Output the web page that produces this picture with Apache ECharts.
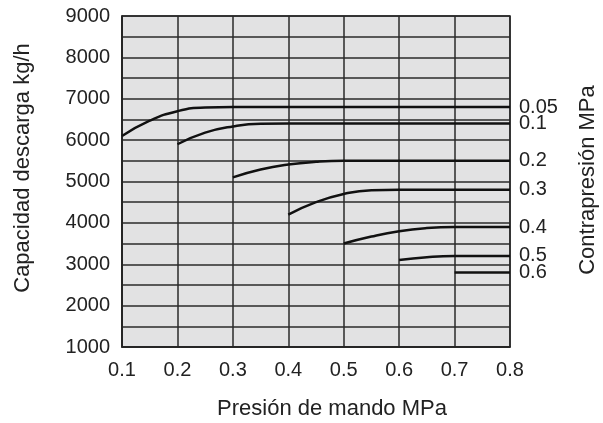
<!DOCTYPE html>
<html>
<head>
<meta charset="utf-8">
<script src="https://cdn.jsdelivr.net/npm/echarts@6/dist/echarts.min.js"></script>
<style>html,body{margin:0;padding:0;background:#fff}#c{width:603px;height:423px}</style>
</head>
<body>
<div id="c"></div>
<script>
// Back pressure curves (MPa): [pilot pressure MPa, discharge capacity kg/h]
const seriesNames = ['0.05', '0.1', '0.2', '0.3', '0.4', '0.5', '0.6'];
const cp005 = [[0.1, 6100], [0.15, 6470], [0.2, 6700], [0.25, 6790], [0.3, 6800], [0.8, 6800]];
const cp01  = [[0.2, 5900], [0.25, 6180], [0.3, 6330], [0.35, 6395], [0.4, 6400], [0.8, 6400]];
const cp02  = [[0.3, 5100], [0.35, 5290], [0.4, 5410], [0.45, 5475], [0.5, 5500], [0.8, 5500]];
const cp03  = [[0.4, 4200], [0.45, 4500], [0.5, 4700], [0.55, 4790], [0.6, 4800], [0.8, 4800]];
const cp04  = [[0.5, 3500], [0.55, 3670], [0.6, 3800], [0.65, 3875], [0.7, 3900], [0.8, 3900]];
const cp05  = [[0.6, 3100], [0.65, 3170], [0.7, 3200], [0.8, 3200]];
const cp06  = [[0.7, 2800], [0.8, 2800]];
const allData = [cp005, cp01, cp02, cp03, cp04, cp05, cp06];

const xTicks = [0.1, 0.2, 0.3, 0.4, 0.5, 0.6, 0.7, 0.8];
const yTicks = [1000, 2000, 3000, 4000, 5000, 6000, 7000, 8000, 9000];
const xTitle = 'Presión de mando MPa';
const yTitle = 'Capacidad descarga kg/h';
const rightTitle = 'Contrapresión MPa';

const FONT = 'Liberation Sans, Arial, Helvetica, sans-serif';
const chart = echarts.init(document.getElementById('c'), null, {renderer: 'canvas'});

const series = allData.map((d, i) => ({
  name: seriesNames[i],
  type: 'line',
  data: d,
  smooth: true,
  showSymbol: false,
  symbol: 'none',
  lineStyle: {color: '#111', width: 2.5},
  endLabel: {
    show: true,
    formatter: '{a}',
    color: '#222',
    fontSize: 20,
    fontFamily: FONT,
    distance: 9
  },
  emphasis: {disabled: true},
  silent: true
}));

const titleFont = '22px ' + FONT;

chart.setOption({
  animation: false,
  backgroundColor: '#fff',
  grid: {
    left: 122, right: 93, top: 16, bottom: 76,
    outerBoundsMode: 'none',
    containLabel: false,
    show: true,
    backgroundColor: '#e2e2e3',
    borderColor: '#222',
    borderWidth: 1.5
  },
  xAxis: {
    type: 'value',
    min: xTicks[0], max: xTicks[xTicks.length - 1], interval: 0.1,
    axisLine: {show: true, lineStyle: {color: '#222', width: 1.5}},
    axisTick: {show: false},
    axisLabel: {
      fontSize: 20, color: '#222', fontFamily: FONT, margin: 13,
      formatter: v => (Math.round(v * 10) / 10).toFixed(1)
    },
    splitLine: {show: true, lineStyle: {color: '#2a2a2a', width: 1.5}}
  },
  yAxis: {
    type: 'value',
    min: yTicks[0], max: yTicks[yTicks.length - 1], interval: 500,
    axisLine: {show: true, lineStyle: {color: '#222', width: 1.5}},
    axisTick: {show: false},
    axisLabel: {
      fontSize: 20, color: '#222', fontFamily: FONT, margin: 12,
      formatter: v => (yTicks.indexOf(v) >= 0 ? String(v) : '')
    },
    splitLine: {show: true, lineStyle: {color: '#2a2a2a', width: 1.5}}
  },
  graphic: [
    {type: 'text', x: 332, y: 409, silent: true,
     style: {text: xTitle, font: titleFont, fill: '#222', align: 'center', verticalAlign: 'middle'}},
    {type: 'text', x: 23, y: 168, rotation: Math.PI / 2, silent: true,
     style: {text: yTitle, font: titleFont, fill: '#222', align: 'center', verticalAlign: 'middle'}},
    {type: 'text', x: 588, y: 180, rotation: Math.PI / 2, silent: true,
     style: {text: rightTitle, font: titleFont, fill: '#222', align: 'center', verticalAlign: 'middle'}}
  ],
  series: series
});
</script>
</body>
</html>
